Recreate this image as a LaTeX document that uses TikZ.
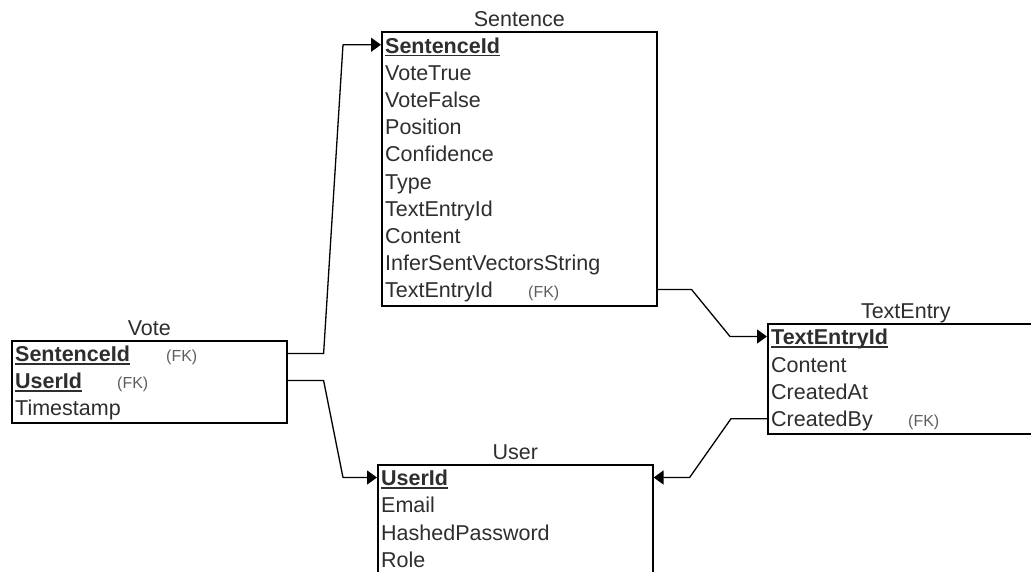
\documentclass[tikz,border=0pt]{standalone}
\usepackage{fontspec}
\setmainfont{Liberation Sans}
\usetikzlibrary{arrows.meta,calc}
\definecolor{txt}{HTML}{2E2E2E}
\definecolor{fkc}{HTML}{5E5E5E}
\newcommand\keyfield[1]{\setbox0\hbox{\bfseries #1}\rlap{\rule[-3pt]{\wd0}{1.5pt}}\box0}
\begin{document}
\begin{tikzpicture}[x=1pt,y=-1pt,
 tbl/.style={draw=black,line width=1.6pt,anchor=north west,inner sep=0pt},
 ttl/.style={font=\fontsize{21.5}{22}\selectfont,text=txt,anchor=base,inner sep=0pt},
 row/.style={font=\fontsize{21.5}{22}\selectfont,text=txt,anchor=west,inner sep=0pt,text height=18pt,text depth=1.5pt},
 fkl/.style={row,font=\fontsize{16}{17}\selectfont,text=fkc},
 conn/.style={draw=black,line width=1.3pt,line join=round},
 arr/.style={conn,-{Triangle[length=10pt,width=14pt]}}]
\clip (0,0) rectangle (1031,571);
\fill[white] (0,0) rectangle (1031,571);

% Sentence
\node[tbl,minimum width=275pt,minimum height=274pt] (sent) at (381,31) {};
\node[ttl] (sentT) at ([yshift=5pt]sent.north) {Sentence};
\foreach \t [count=\i from 0] in {\keyfield{SentenceId},VoteTrue,VoteFalse,Position,Confidence,Type,TextEntryId,Content,InferSentVectorsString,TextEntryId}
  \node[row] (s\i) at (385,44.75+27.2*\i) {\t};
\node[fkl] (s9fk) at (528,0 |- s9) {(FK)};

% Vote
\node[tbl,minimum width=275pt,minimum height=82pt] (vote) at (11,340) {};
\node[ttl] (voteT) at ([yshift=5pt]vote.north) {Vote};
\foreach \t [count=\i from 0] in {\keyfield{SentenceId},\keyfield{UserId},Timestamp}
  \node[row] (v\i) at (15,353.5+27*\i) {\t};
\node[fkl] (v0fk) at (166,0 |- v0) {(FK)};
\node[fkl] (v1fk) at (117,0 |- v1) {(FK)};

% TextEntry
\node[tbl,minimum width=276pt,minimum height=110pt] (te) at (767,323) {};
\node[ttl] (teT) at ([yshift=5pt]te.north) {TextEntry};
\foreach \t [count=\i from 0] in {\keyfield{TextEntryId},Content,CreatedAt,CreatedBy}
  \node[row] (t\i) at (771,336.5+27.4*\i) {\t};
\node[fkl] (t3fk) at (908,0 |- t3) {(FK)};

% User
\node[tbl,minimum width=275pt,minimum height=120pt] (user) at (377,464) {};
\node[ttl] (userT) at ([yshift=5pt]user.north) {User};
\foreach \t [count=\i from 0] in {\keyfield{UserId},Email,HashedPassword,Role}
  \node[row] (u\i) at (381,477.5+27.2*\i) {\t};

% connectors
\draw[arr] (v0 -| vote.east) -- ++(36,0) -- ($(s0 -| sent.west)+(-38,0)$) -- (s0 -| sent.west);
\draw[arr] (v1 -| vote.east) -- ++(36,0) -- ($(u0 -| user.west)+(-34,0)$) -- (u0 -| user.west);
\draw[arr] (s9 -| sent.east) -- ++(34,0) -- ($(t0 -| te.west)+(-37,0)$) -- (t0 -| te.west);
\draw[arr] (t3 -| te.west) -- ++(-36,0) -- ($(u0 -| user.east)+(36,0)$) -- (u0 -| user.east);
\end{tikzpicture}
\end{document}
